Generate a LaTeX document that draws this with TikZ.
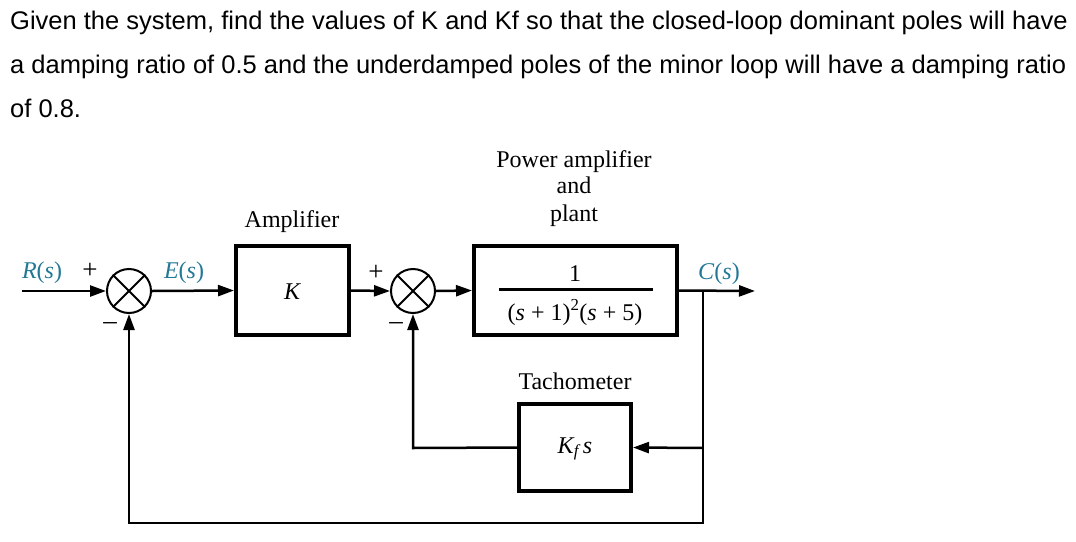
\documentclass[tikz,border=0pt]{standalone}
\usepackage{fontspec}
\setmainfont{Liberation Serif}
\newfontfamily\arialfont{Liberation Sans}
\usetikzlibrary{arrows.meta}
\definecolor{sigcol}{RGB}{35,120,150}
\begin{document}
\begin{tikzpicture}[x=1pt,y=-1pt,
  txt/.style={inner sep=0pt,anchor=base,font=\fontsize{24}{28}\selectfont},
  sig/.style={txt,text=sigcol},
  sgn/.style={inner sep=0pt,font=\fontsize{27}{30}\selectfont},
  para/.style={inner sep=0pt,anchor=base west,font=\arialfont\fontsize{25.5}{30}\selectfont},
  blk/.style={draw,line width=4pt,inner sep=0pt},
  sumj/.style={draw,circle,line width=2pt,minimum size=44pt,inner sep=0pt},
  wire/.style={line width=2.5pt},
  arr/.style={wire,-{Triangle[length=16pt,width=11pt]}}]
\useasboundingbox (0,0) rectangle (1076,541);
% problem text
\node[para] (l1) at (10,29) {Given the system, find the values of K and Kf so that the closed-loop dominant poles will have};
\node[para] (l2) at (10,73) {a damping ratio of 0.5 and the underdamped poles of the minor loop will have a damping ratio};
\node[para] (l3) at (10,117) {of 0.8.};
% blocks
\node[sumj] (s1) at (129,291) {};
\draw[line width=2pt] (s1.45) -- (s1.225) (s1.135) -- (s1.315);
\node[blk,minimum width=113pt,minimum height=89pt] (kb) at (292.5,290.5) {};
\node[txt] (kl) at (292,299) {\itshape K};
\node[sumj] (s2) at (413,291) {};
\draw[line width=2pt] (s2.45) -- (s2.225) (s2.135) -- (s2.315);
\node[blk,minimum width=203pt,minimum height=89pt] (pb) at (575.5,290.5) {};
\node[txt] (num) at (575,281) {1};
\draw[line width=3pt] (499,289) -- (653,289);
\node[txt] (den) at (575,320) {(\textit{s} + 1)\textsuperscript{2}(\textit{s} + 5)};
\node[blk,minimum width=112pt,minimum height=87pt] (tb) at (575,447.5) {};
\node[txt] (tl) at (575,453) {\itshape K\textsubscript{f}\,s};
% labels
\node[txt] (amp) at (292,227) {Amplifier};
\node[txt] (pa1) at (574,167) {Power amplifier};
\node[txt] (pa2) at (574,193) {and};
\node[txt] (pa3) at (574,221) {plant};
\node[txt] (tach) at (575,389) {Tachometer};
\node[sig] (rs) at (42,278) {\textit{R}(\textit{s})};
\node[sig] (es) at (184,278) {\textit{E}(\textit{s})};
\node[sig] (cs) at (719,279) {\textit{C}(\textit{s})};
\node[sgn] (p1) at (90,271) {+};
\node[sgn] (m1) at (110,326) {\textendash};
\node[sgn] (p2) at (376,273) {+};
\node[sgn] (m2) at (396,326) {\textendash};
% coordinates
\coordinate (in) at (22,291);
\coordinate (out) at (755,291);
\coordinate (br) at (703,291);
\coordinate (brb) at (703,523);
\coordinate (blb) at (129,523);
\coordinate (tr) at (703,448);
\coordinate (tlft) at (413,448);
% connectors
\draw[arr] (in) -- (s1.west);
\draw[arr] (s1.east) -- (kb.west);
\draw[arr] (kb.east) -- (s2.west);
\draw[arr] (s2.east) -- (pb.west);
\draw[arr] (pb.east) -- (out);
\draw[arr] (br) -- (brb) -- (blb) -- (s1.south);
\draw[arr] (tr) -- (tb.east);
\draw[arr] (tb.west) -- (tlft) -- (s2.south);
\end{tikzpicture}
\end{document}
